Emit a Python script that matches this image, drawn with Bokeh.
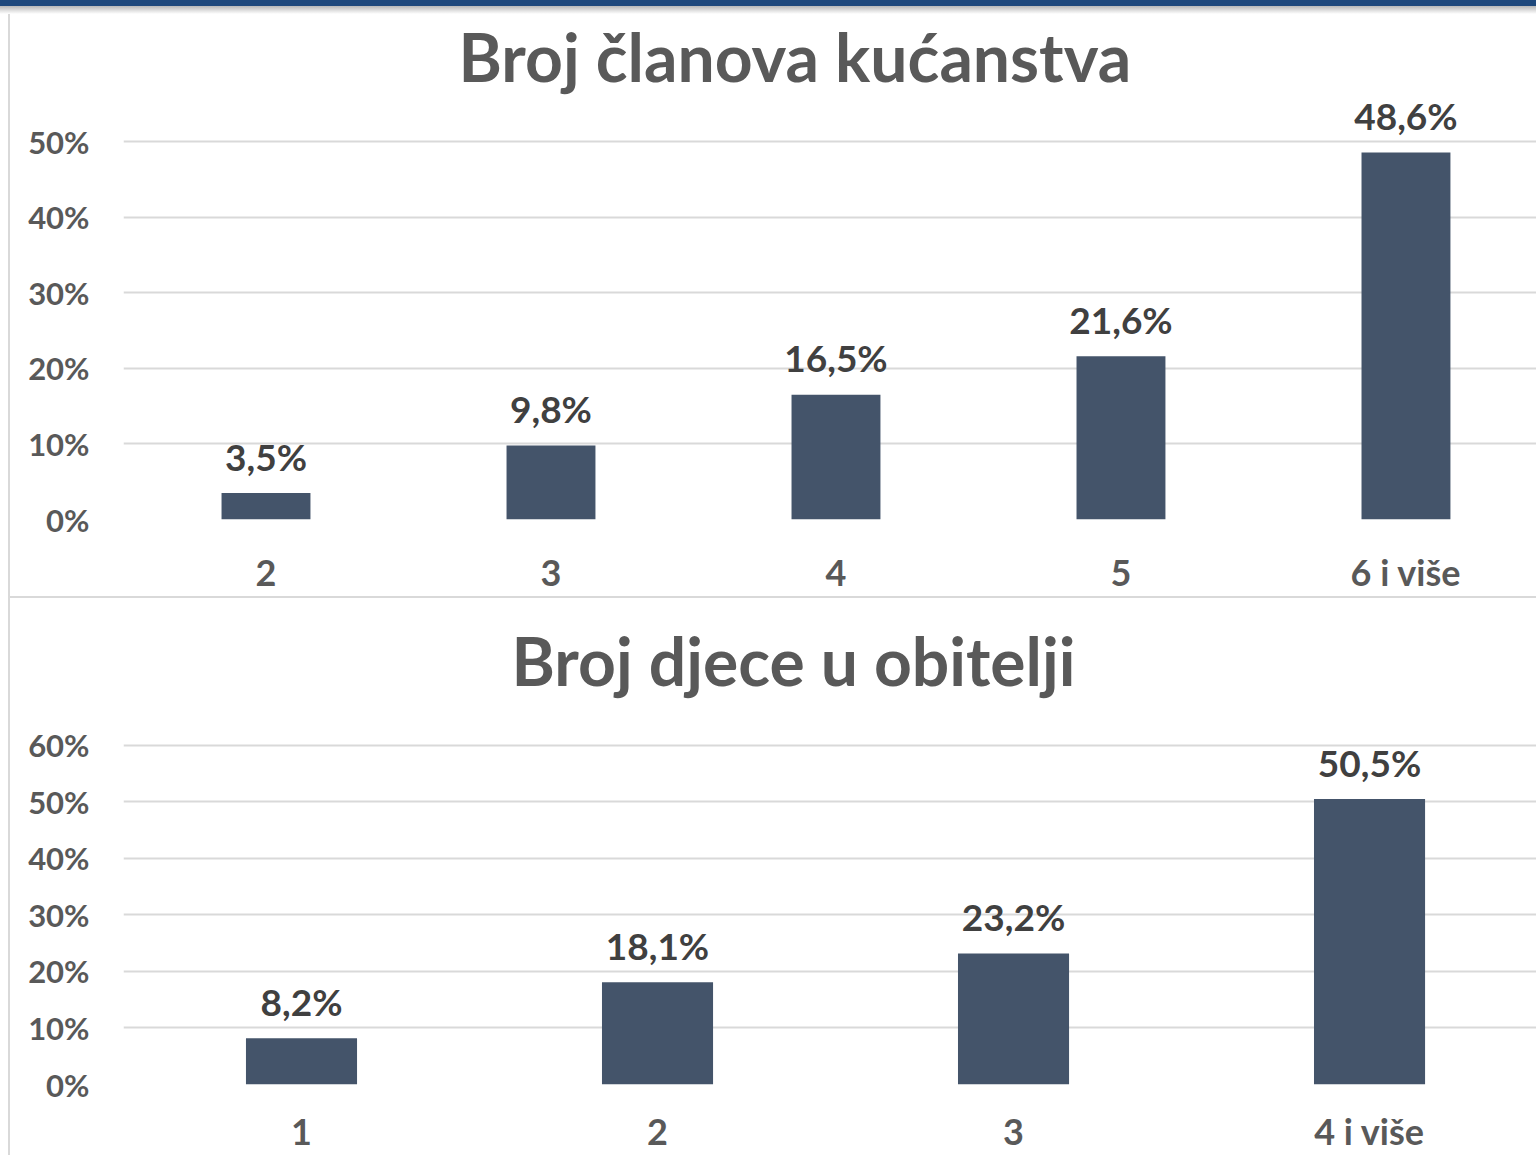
from bokeh.plotting import figure
from bokeh.models import Range1d, FixedTicker, NumeralTickFormatter, ColumnDataSource, Div
from bokeh.layouts import column, row
from bokeh.core.properties import value
from bokeh.embed import file_html
from bokeh.resources import INLINE

# ---- data ----
hh_title = "Broj članova kućanstva"
hh_categories = ["2", "3", "4", "5", "6 i više"]
hh_values = [0.035, 0.098, 0.165, 0.216, 0.486]
hh_ticks = [0.0, 0.1, 0.2, 0.3, 0.4, 0.5]

ch_title = "Broj djece u obitelji"
ch_categories = ["1", "2", "3", "4 i više"]
ch_values = [0.082, 0.181, 0.232, 0.505]
ch_ticks = [0.0, 0.1, 0.2, 0.3, 0.4, 0.5, 0.6]

BAR = "#44546a"
GRID = "#d9d9d9"
AXIS_TXT = "#595959"
LBL_TXT = "#404040"
FONT = "Lato"


def fmt(v):
    return f"{v * 100:.1f}".replace(".", ",") + "%"


def make_chart(title, cats, vals, ticks, height, y_end, x_end, b_top, b_bottom,
               title_offset, title_standoff, x_standoff):
    xs = list(range(1, len(cats) + 1))
    src = ColumnDataSource(dict(x=xs, top=vals, label=[fmt(v) for v in vals]))
    p = figure(width=1526, height=height, output_backend="svg", toolbar_location=None,
               x_range=Range1d(0.5, x_end), y_range=Range1d(0, y_end),
               min_border_left=113, min_border_right=0,
               min_border_top=b_top, min_border_bottom=b_bottom)
    p.outline_line_color = None
    p.background_fill_color = "white"
    p.border_fill_color = "white"

    p.title.text = title
    p.title.align = "left"
    p.title.offset = title_offset
    p.title.standoff = title_standoff
    p.title.text_font = FONT
    p.title.text_font_style = "bold"
    p.title.text_font_size = "66px"
    p.title.text_color = AXIS_TXT

    p.vbar(x="x", top="top", width=0.312, bottom=0, source=src,
           fill_color=BAR, line_color=None)
    p.text(x="x", y="top", text="label", source=src, text_align="center",
           text_baseline="alphabetic", y_offset=-37,
           text_font=value(FONT), text_font_style="bold",
           text_font_size=value("37px"), text_color=LBL_TXT)

    p.xgrid.grid_line_color = None
    p.ygrid.ticker = FixedTicker(ticks=ticks)
    p.ygrid.grid_line_color = GRID
    p.ygrid.grid_line_width = 2

    ya = p.yaxis[0]
    ya.ticker = FixedTicker(ticks=ticks)
    ya.formatter = NumeralTickFormatter(format="0%")
    ya.axis_line_color = None
    ya.major_tick_line_color = None
    ya.minor_tick_line_color = None
    ya.major_tick_in = 0
    ya.major_tick_out = 0
    ya.major_label_standoff = 34
    ya.major_label_text_font = FONT
    ya.major_label_text_font_style = "bold"
    ya.major_label_text_font_size = "31px"
    ya.major_label_text_color = AXIS_TXT

    xa = p.xaxis[0]
    xa.ticker = FixedTicker(ticks=xs)
    xa.major_label_overrides = {x: c for x, c in zip(xs, cats)}
    xa.axis_line_color = None
    xa.major_tick_line_color = None
    xa.minor_tick_line_color = None
    xa.major_tick_in = 0
    xa.major_tick_out = 0
    xa.major_label_standoff = x_standoff
    xa.major_label_text_font = FONT
    xa.major_label_text_font_style = "bold"
    xa.major_label_text_font_size = "36px"
    xa.major_label_text_color = AXIS_TXT
    return p


p1 = make_chart(hh_title, hh_categories, hh_values, hh_ticks, height=582,
                y_end=0.56, x_end=5.458, b_top=82, b_bottom=77,
                title_offset=335, title_standoff=1, x_standoff=30)
p2 = make_chart(ch_title, ch_categories, ch_values, ch_ticks, height=557,
                y_end=0.6476, x_end=4.469, b_top=120, b_bottom=70,
                title_offset=388, title_standoff=38, x_standoff=24)

top_bar = Div(width=1536, height=14, margin=(0, 0, 0, 0), styles={
    "background": "linear-gradient(to bottom, #1f497d 0px, #1f497d 6px, #b8b8b8 6px, #ffffff 14px)"})
left_line = Div(width=10, height=1141, margin=(0, 0, 0, 0), styles={
    "background": "linear-gradient(to right, #ffffff 0px, #ffffff 8px, #d9d9d9 8px, #d9d9d9 10px)"})
divider = Div(width=1526, height=2, margin=(0, 0, 0, 0), styles={"background-color": GRID})

layout = column(top_bar, row(left_line, column(p1, divider, p2)))

open("out.html", "w").write(file_html(layout, INLINE))
